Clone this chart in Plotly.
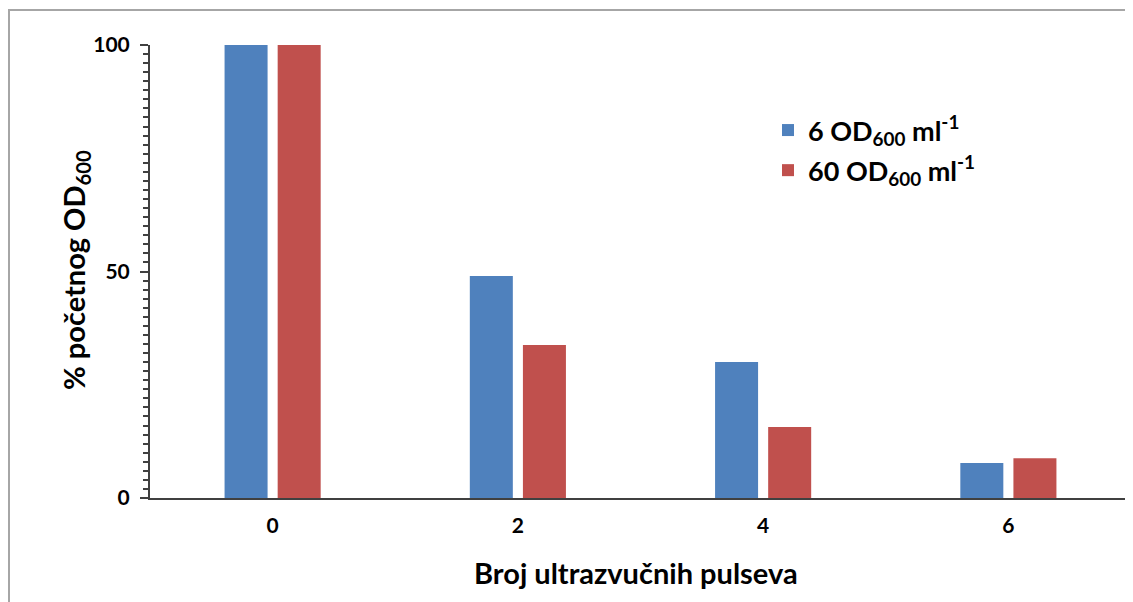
import plotly.graph_objects as go

categories = ["0", "2", "4", "6"]
series_6 = [100, 49.0, 30.0, 7.7]
series_60 = [100, 33.8, 15.7, 8.8]
name_6 = "6 OD<sub>600</sub> ml<sup>-1</sup>"
name_60 = "60 OD<sub>600</sub> ml<sup>-1</sup>"
y_ticks = [0, 50, 100]
x_title = "Broj ultrazvučnih pulseva"
y_title = "% početnog OD<sub>600</sub>"

FONT = "Lato, 'Open Sans', sans-serif"
BLUE = "#4F81BD"
RED = "#C0504D"

fig = go.Figure()
fig.add_trace(go.Bar(x=categories, y=series_6, name=name_6, marker_color=BLUE,
                     marker_line_width=0, legendgroup="a"))
fig.add_trace(go.Bar(x=categories, y=series_60, name=name_60, marker_color=RED,
                     marker_line_width=0, legendgroup="b"))

# page body has an 8px margin; work in screen pixels and shift
OFF = 8
W, H = 1133 - OFF, 602 - OFF
L, R, T, B = 150 - OFF, 2, 45 - OFF, 602 - 498
pw = W - L - R
ph = H - T - B

def px_x(px):
    return (px - OFF - L) / pw

def px_y(py):
    return (H - B - (py - OFF)) / ph

fig.update_layout(
    width=W, height=H,
    margin=dict(l=L, r=R, t=T, b=B),
    paper_bgcolor="white", plot_bgcolor="white",
    barmode="group", bargap=0.567, bargroupgap=0.19,
    font=dict(family=FONT, color="#000000"),
    showlegend=True,
    legend=dict(x=px_x(768), y=px_y(106), xanchor="left", yanchor="top",
                font=dict(family=FONT, size=27, color="#000000", weight="bold"),
                bgcolor="rgba(0,0,0,0)", tracegroupgap=2, traceorder="grouped"),
    xaxis=dict(type="category", showline=True, linecolor="#404040", linewidth=2,
               ticks="", showgrid=False, zeroline=False,
               tickfont=dict(family=FONT, size=21, color="#000000", weight="bold"),
               ticklabelstandoff=8),
    yaxis=dict(range=[0, 100], tickvals=y_ticks, showline=True, linecolor="#404040",
               linewidth=2, ticks="outside", ticklen=8, tickwidth=2, tickcolor="#404040",
               minor=dict(dtick=2, ticks="outside", ticklen=5, tickwidth=2, tickcolor="#404040"),
               showgrid=False, zeroline=False,
               tickfont=dict(family=FONT, size=21, color="#000000", weight="bold"),
               ticklabelstandoff=6),
    annotations=[
        dict(text=x_title, xref="paper", yref="paper", x=px_x(636), y=px_y(572),
             xanchor="center", yanchor="middle", showarrow=False,
             font=dict(family=FONT, size=29, color="#000000", weight="bold")),
        dict(text=y_title, xref="paper", yref="paper", x=px_x(75), y=px_y(270),
             xanchor="center", yanchor="middle", showarrow=False, textangle=-90,
             font=dict(family=FONT, size=29, color="#000000", weight="bold")),
    ],
    shapes=[
        dict(type="line", xref="paper", yref="paper", x0=px_x(8), x1=px_x(1140),
             y0=px_y(10), y1=px_y(10), line=dict(color="#A6A6A6", width=2)),
        dict(type="line", xref="paper", yref="paper", x0=px_x(9), x1=px_x(9),
             y0=px_y(10), y1=px_y(610), line=dict(color="#A6A6A6", width=2)),
    ],
)

fig.write_html("out.html")
